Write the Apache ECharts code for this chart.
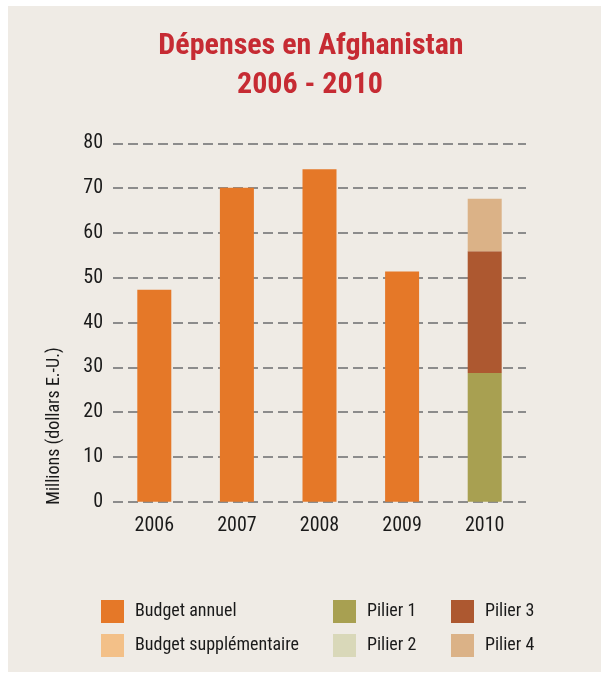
<!DOCTYPE html>
<html><head><meta charset="utf-8">
<script src="https://cdn.jsdelivr.net/npm/echarts@6/dist/echarts.min.js"></script>
<style>html,body{margin:0;padding:0;background:#fff}#c{width:609px;height:678px}</style>
</head><body><div id="c"></div>
<script>
const categories = ['2006','2007','2008','2009','2010'];
const budgetAnnuel = [47.3, 70.1, 74.2, 51.4, null];
const budgetSupp = [null, null, null, null, null];
const pilier1 = [null, null, null, null, 28.7];
const pilier2 = [null, null, null, null, null];
const pilier3 = [null, null, null, null, 27.2];
const pilier4 = [null, null, null, null, 11.7];
const yTicks = [0, 80, 10];

const FONT = '"Roboto Condensed", "Open Sans Condensed", sans-serif';
const colors = {
  'Budget annuel': '#e57828',
  'Budget supplémentaire': '#f3c088',
  'Pilier 1': '#a8a051',
  'Pilier 2': '#d9d8b9',
  'Pilier 3': '#ad5830',
  'Pilier 4': '#dbb287'
};
function mk(name, data) {
  return { name, type: 'bar', stack: 'total', data, barWidth: 34,
    itemStyle: { color: colors[name] } };
}
const chart = echarts.init(document.getElementById('c'));
const legendCommon = { orient: 'vertical', icon: 'rect', itemWidth: 23, itemHeight: 23, itemGap: 11,
  textStyle: { fontFamily: FONT, fontSize: 18, color: '#1a1a1a', padding: [0, 0, 0, 6] }, selectedMode: false };
chart.setOption({
  animation: false,
  backgroundColor: '#fff',
  graphic: [
    { type: 'rect', z: -10, shape: { x: 8, y: 6, width: 593, height: 666 }, style: { fill: '#efebe5' } },
    { type: 'text', x: 311, y: 46, style: { text: 'Dépenses en Afghanistan', font: 'bold 30px ' + FONT, fill: '#c62b33', align: 'center', verticalAlign: 'middle' } },
    { type: 'text', x: 310, y: 85, style: { text: '2006 - 2010', font: 'bold 30px ' + FONT, fill: '#c62b33', align: 'center', verticalAlign: 'middle' } },
    { type: 'text', x: 54, y: 426, rotation: Math.PI / 2, style: { text: 'Millions (dollars E.-U.)', font: '18px ' + FONT, fill: '#1a1a1a', align: 'center', verticalAlign: 'middle' } }
  ],
  legend: [
    Object.assign({ left: 96, top: 595, data: ['Budget annuel', 'Budget supplémentaire'] }, legendCommon),
    Object.assign({ left: 328, top: 595, data: ['Pilier 1', 'Pilier 2'] }, legendCommon),
    Object.assign({ left: 446, top: 595, data: ['Pilier 3', 'Pilier 4'] }, legendCommon)
  ],
  grid: { left: 113, right: 83, top: 143.3, bottom: 176.3 },
  xAxis: { type: 'category', data: categories,
    axisLine: { show: false }, axisTick: { show: false },
    axisLabel: { fontFamily: FONT, fontSize: 20, color: '#1a1a1a', margin: 14 } },
  yAxis: { type: 'value', min: yTicks[0], max: yTicks[1], interval: yTicks[2],
    axisLine: { show: false }, axisTick: { show: false },
    axisLabel: { fontFamily: FONT, fontSize: 20, color: '#1a1a1a', margin: 10 },
    splitLine: { lineStyle: { color: '#8c8c8c', width: 2, type: [10, 5] } } },
  series: [
    mk('Budget annuel', budgetAnnuel),
    mk('Budget supplémentaire', budgetSupp),
    mk('Pilier 1', pilier1),
    mk('Pilier 2', pilier2),
    mk('Pilier 3', pilier3),
    mk('Pilier 4', pilier4)
  ]
});
</script></body></html>
